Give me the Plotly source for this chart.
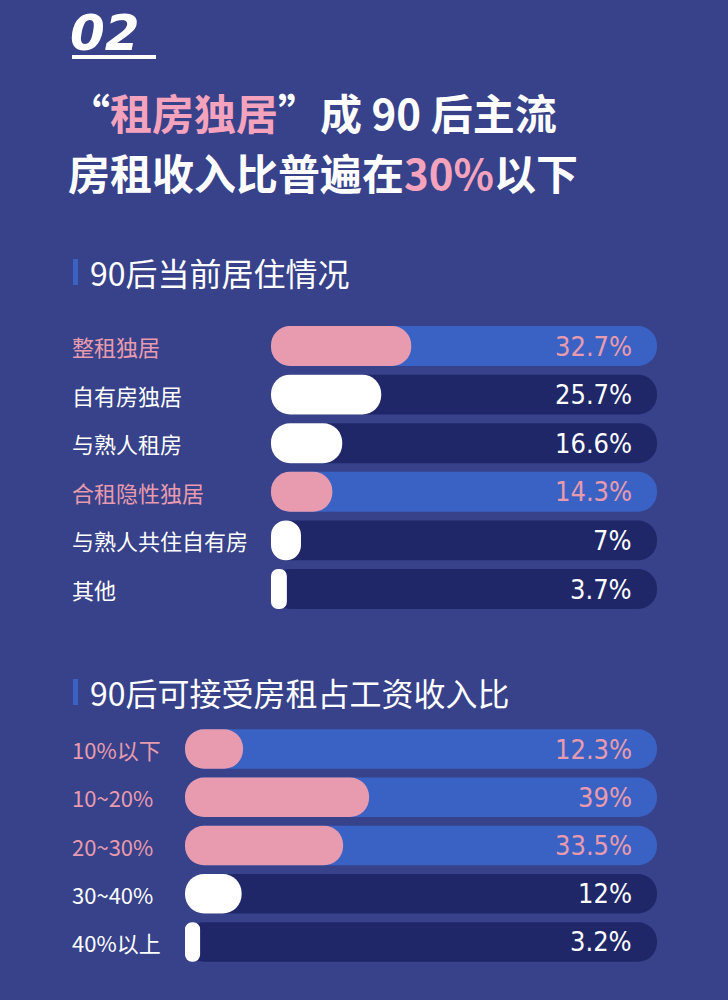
import plotly.graph_objects as go

# ---------------- data ----------------
living_labels = ["整租独居", "自有房独居", "与熟人租房", "合租隐性独居", "与熟人共住自有房", "其他"]
living_values = [32.7, 25.7, 16.6, 14.3, 7, 3.7]
living_text = ["32.7%", "25.7%", "16.6%", "14.3%", "7%", "3.7%"]
living_highlight = [True, False, False, True, False, False]
living_track = 90

rent_labels = ["10%以下", "10~20%", "20~30%", "30~40%", "40%以上"]
rent_values = [12.3, 39, 33.5, 12, 3.2]
rent_text = ["12.3%", "39%", "33.5%", "12%", "3.2%"]
rent_highlight = [True, True, True, False, False]
rent_track = 100

# ---------------- style ----------------
BG = "#37428a"
BLUE = "#3a62c4"
DARK = "#1f2768"
PINK = "#e89bae"
TITLE_PINK = "#f5a3bd"
WHITE = "#ffffff"
CJK = "Noto Sans CJK SC, Noto Sans, sans-serif"
NUM = "Liberation Sans Narrow, DejaVu Sans Condensed, Roboto, sans-serif"
W, H = 728, 1000

fig = go.Figure()


def add_section(labels, values, texts, hl, track, xa, ya):
    track_cols = [BLUE if h else DARK for h in hl]
    fill_cols = [PINK if h else WHITE for h in hl]
    fig.add_trace(go.Bar(
        y=labels, x=[track] * len(labels), base=[0] * len(labels), orientation="h",
        marker=dict(color=track_cols, cornerradius="50%", line=dict(width=0)),
        width=0.82, xaxis=xa, yaxis=ya, hoverinfo="skip", showlegend=False))
    fig.add_trace(go.Bar(
        y=labels, x=values, base=[0] * len(labels), orientation="h",
        marker=dict(color=fill_cols, cornerradius="50%", line=dict(width=0)),
        width=0.82, xaxis=xa, yaxis=ya, hoverinfo="skip", showlegend=False))
    for lab, t, h in zip(labels, texts, hl):
        fig.add_annotation(x=70 / W, xref="paper", y=lab, yref=ya, text=lab,
                           xanchor="left", yanchor="middle", showarrow=False,
                           font=dict(family=CJK, size=22, color=PINK if h else WHITE))
        fig.add_annotation(x=634 / W, xref="paper", y=lab, yref=ya, text=t,
                           xanchor="right", yanchor="middle", showarrow=False,
                           font=dict(family=NUM, size=27, color=PINK if h else WHITE))


add_section(living_labels, living_values, living_text, living_highlight, living_track, "x", "y")
add_section(rent_labels, rent_values, rent_text, rent_highlight, rent_track, "x2", "y2")

axis_common = dict(showgrid=False, zeroline=False, showticklabels=False, showline=False, fixedrange=True)
fig.update_layout(
    width=W, height=H,
    margin=dict(l=0, r=0, t=0, b=0),
    paper_bgcolor=BG, plot_bgcolor=BG,
    barmode="overlay",
    xaxis=dict(domain=[271 / W, 657 / W], range=[0, living_track], **axis_common),
    yaxis=dict(domain=[1 - 613.3 / H, 1 - 321.7 / H], autorange="reversed",
               categoryorder="array", categoryarray=living_labels, **axis_common),
    xaxis2=dict(domain=[185 / W, 657 / W], range=[0, rent_track], anchor="y2", **axis_common),
    yaxis2=dict(domain=[1 - 966.1 / H, 1 - 724.9 / H], autorange="reversed", anchor="x2",
                categoryorder="array", categoryarray=rent_labels, **axis_common),
)

# headline "02"
fig.add_annotation(x=68 / W, xref="paper", y=1 - 33 / H, yref="paper", text="<b><i>02</i></b>",
                   xanchor="left", yanchor="middle", showarrow=False,
                   font=dict(family="DejaVu Sans, sans-serif", size=50, color=WHITE))
fig.add_shape(type="rect", xref="paper", yref="paper", x0=72 / W, x1=156 / W,
              y0=1 - 59 / H, y1=1 - 55 / H, fillcolor=WHITE, line=dict(width=0))

# title lines
fig.add_annotation(x=66 / W, xref="paper", y=1 - 112 / H, yref="paper",
                   text=f"<b>“<span style='color:{TITLE_PINK}'>租房独居</span>”成 90 后主流</b>",
                   xanchor="left", yanchor="middle", showarrow=False,
                   font=dict(family=CJK, size=42, color=WHITE))
fig.add_annotation(x=66 / W, xref="paper", y=1 - 172 / H, yref="paper",
                   text=f"<b>房租收入比普遍在<span style='color:{TITLE_PINK}'>30%</span>以下</b>",
                   xanchor="left", yanchor="middle", showarrow=False,
                   font=dict(family=CJK, size=42, color=WHITE))

# section headings
for txt, yc in [("90后当前居住情况", 272), ("90后可接受房租占工资收入比", 692)]:
    fig.add_shape(type="rect", xref="paper", yref="paper", x0=73 / W, x1=78 / W,
                  y0=1 - (yc + 13) / H, y1=1 - (yc - 13) / H, fillcolor=BLUE, line=dict(width=0))
    fig.add_annotation(x=88 / W, xref="paper", y=1 - yc / H, yref="paper", text=txt,
                       xanchor="left", yanchor="middle", showarrow=False,
                       font=dict(family=CJK, size=32, color=WHITE))

fig.write_html("out.html")
